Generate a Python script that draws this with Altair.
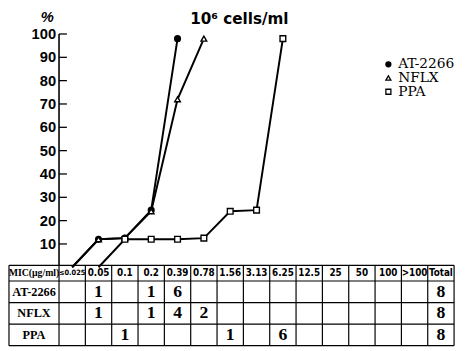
import altair as alt
import pandas as pd

# ---------------- data ----------------
mic_labels = ["≤0.025", "0.05", "0.1", "0.2", "0.39", "0.78", "1.56", "3.13",
              "6.25", "12.5", "25", "50", "100", ">100", "Total"]
drugs = ["AT-2266", "NFLX", "PPA"]

at_counts = [None, 1, None, 1, 6, None, None, None, None, None, None, None, None, None, 8]
nflx_counts = [None, 1, None, 1, 4, 2, None, None, None, None, None, None, None, None, 8]
ppa_counts = [None, None, 1, None, None, None, 1, None, 6, None, None, None, None, None, 8]

# cumulative % curves (MIC column index of each point)
at_cols = [0, 1, 2, 3, 4]
at_pct = [0, 12, 12.5, 24.5, 98]
nflx_cols = [0, 1, 2, 3, 4, 5]
nflx_pct = [0, 12, 12.5, 24, 72, 98]
ppa_cols = [1, 2, 3, 4, 5, 6, 7, 8]
ppa_pct = [0, 12, 12, 12, 12.5, 24, 24.5, 98]

y_ticks = [10, 20, 30, 40, 50, 60, 70, 80, 90, 100]

header_label = "MIC(μg/ml)"
title_text = "10⁶ cells/ml"

# ---------------- layout (scale units) ----------------
X_MIN, X_MAX = -1.9, 15.0
Y_MIN, Y_MAX = -33.6, 109.7
T_TOP = 0.84
HEAD_H = 6.72
ROW_H = 9.24
W, H = 454, 341

LAB_X = X_MIN / 2
HEAD_Y = T_TOP - HEAD_H / 2
row_bounds = [T_TOP, T_TOP - HEAD_H] + [T_TOP - HEAD_H - ROW_H * (i + 1) for i in range(3)]
row_centers = [T_TOP - HEAD_H - ROW_H * (i + 0.5) for i in range(3)]

xs = alt.Scale(domain=[X_MIN, X_MAX], nice=False, zero=False)
ys = alt.Scale(domain=[Y_MIN, Y_MAX], nice=False, zero=False)

SERIF = "Liberation Serif, DejaVu Serif, serif"
NARROW = "Liberation Sans Narrow, DejaVu Sans Condensed, Liberation Sans, sans-serif"

# ---------------- tables built from the arrays ----------------
hlines = pd.DataFrame({"y": row_bounds, "x": X_MIN, "x2": X_MAX})
vlines = pd.DataFrame({"x": [X_MIN] + list(range(0, len(mic_labels) + 1)),
                       "y": Y_MIN, "y2": T_TOP})
axis_line = pd.DataFrame({"x": [0], "y": [T_TOP], "y2": [100]})
ticks = pd.DataFrame({"y": y_ticks, "x": 0, "x2": 0.3})

rows = []
for d, cols, pct in [("AT-2266", at_cols, at_pct), ("NFLX", nflx_cols, nflx_pct),
                     ("PPA", ppa_cols, ppa_pct)]:
    for c, p in zip(cols, pct):
        rows.append({"drug": d, "x": c + 0.5, "pct": p})
curves = pd.DataFrame(rows)

head = pd.DataFrame({"label": mic_labels, "x": [i + 0.5 for i in range(len(mic_labels))],
                     "y": HEAD_Y})
cells = []
for r, counts in enumerate([at_counts, nflx_counts, ppa_counts]):
    for c, v in enumerate(counts):
        if v is not None:
            cells.append({"x": c + 0.5, "y": row_centers[r], "v": str(v)})
cells = pd.DataFrame(cells)
rowlab = pd.DataFrame({"label": drugs, "x": LAB_X, "y": row_centers})
miclab = pd.DataFrame({"label": [header_label], "x": [LAB_X], "y": [HEAD_Y]})

X = lambda f: alt.X(f, type="quantitative", scale=xs, axis=None)
Y = lambda f: alt.Y(f, type="quantitative", scale=ys, axis=None)

l_h = alt.Chart(hlines).mark_rule(color="black", strokeWidth=1.2).encode(
    x=X("x"), x2="x2", y=Y("y"))
l_v = alt.Chart(vlines).mark_rule(color="black", strokeWidth=1.2).encode(
    x=X("x"), y=Y("y"), y2="y2")
l_ax = alt.Chart(axis_line).mark_rule(color="black", strokeWidth=1.6).encode(
    x=X("x"), y=Y("y"), y2="y2")
l_tk = alt.Chart(ticks).mark_rule(color="black", strokeWidth=1.3).encode(
    x=X("x"), x2="x2", y=Y("y"))
l_tl = alt.Chart(ticks).mark_text(align="right", baseline="middle", dx=-3,
                                  font="Liberation Sans, Arial, sans-serif",
                                  fontWeight="bold", fontSize=15, color="black").encode(
    x=X("x"), y=Y("y"), text="y:Q")

l_line = alt.Chart(curves).mark_line(color="black", strokeWidth=2).encode(
    x=X("x"), y=Y("pct"), detail="drug:N")


def mk_legend():
    return alt.Legend(
        title=None, orient="none", legendX=380, legendY=47, padding=0, rowPadding=-1,
        labelFont="DejaVu Serif, serif", labelFontSize=14, labelColor="black",
        labelOffset=3, symbolSize=26, symbolStrokeWidth=1.3, symbolOpacity=1)


l_pts = alt.Chart(curves).transform_filter("datum.pct > 0").mark_point(
    strokeWidth=1.4, opacity=1, fillOpacity=1, size=34).encode(
    x=X("x"), y=Y("pct"),
    shape=alt.Shape("drug:N", legend=mk_legend(),
                    scale=alt.Scale(domain=drugs, range=["circle", "triangle-up", "square"])),
    fill=alt.Fill("drug:N", legend=mk_legend(),
                  scale=alt.Scale(domain=drugs, range=["black", "white", "white"])),
    stroke=alt.Stroke("drug:N", legend=mk_legend(),
                      scale=alt.Scale(domain=drugs, range=["black", "black", "black"])))

l_head = alt.Chart(head).transform_filter("datum.x > 1").mark_text(
    baseline="middle", font=NARROW, fontWeight="bold", fontSize=10, color="black").encode(
    x=X("x"), y=Y("y"), text="label:N")
l_head0 = alt.Chart(head).transform_filter("datum.x < 1").mark_text(
    baseline="middle", font=NARROW, fontWeight="bold", fontSize=7.5, color="black").encode(
    x=X("x"), y=Y("y"), text="label:N")
l_mic = alt.Chart(miclab).mark_text(baseline="middle", font=SERIF, fontWeight="bold",
                                    fontSize=10, color="black").encode(
    x=X("x"), y=Y("y"), text="label:N")
l_rows = alt.Chart(rowlab).mark_text(baseline="middle", font=SERIF, fontWeight="bold",
                                     fontSize=12.5, color="black").encode(
    x=X("x"), y=Y("y"), text="label:N")
l_cells = alt.Chart(cells).mark_text(baseline="middle", font=SERIF, fontWeight="bold",
                                     fontSize=18, color="black").encode(
    x=X("x"), y=Y("y"), text="v:N")

l_pct = alt.Chart(pd.DataFrame({"t": ["%"]})).mark_text(
    baseline="middle", font="Liberation Sans, sans-serif", fontWeight="bold", fontSize=15,
    fontStyle="italic", color="black").encode(
    x=alt.value(39), y=alt.value(6), text="t:N")
l_title = alt.Chart(pd.DataFrame({"t": [title_text]})).mark_text(
    baseline="middle", font="DejaVu Sans, sans-serif", fontWeight="bold", fontSize=15.5,
    color="black").encode(x=alt.value(235), y=alt.value(8), text="t:N")

chart = alt.layer(l_h, l_v, l_ax, l_tk, l_tl, l_line, l_pts, l_head, l_head0, l_mic,
                  l_rows, l_cells, l_pct, l_title).properties(
    width=W, height=H,
    autosize=alt.AutoSizeParams(type="none"),
    padding={"left": 1, "top": 0, "right": 4, "bottom": 2},
    background="white",
).configure_view(stroke=None)

chart.save("out.html", embed_options={"renderer": "svg", "actions": False})
